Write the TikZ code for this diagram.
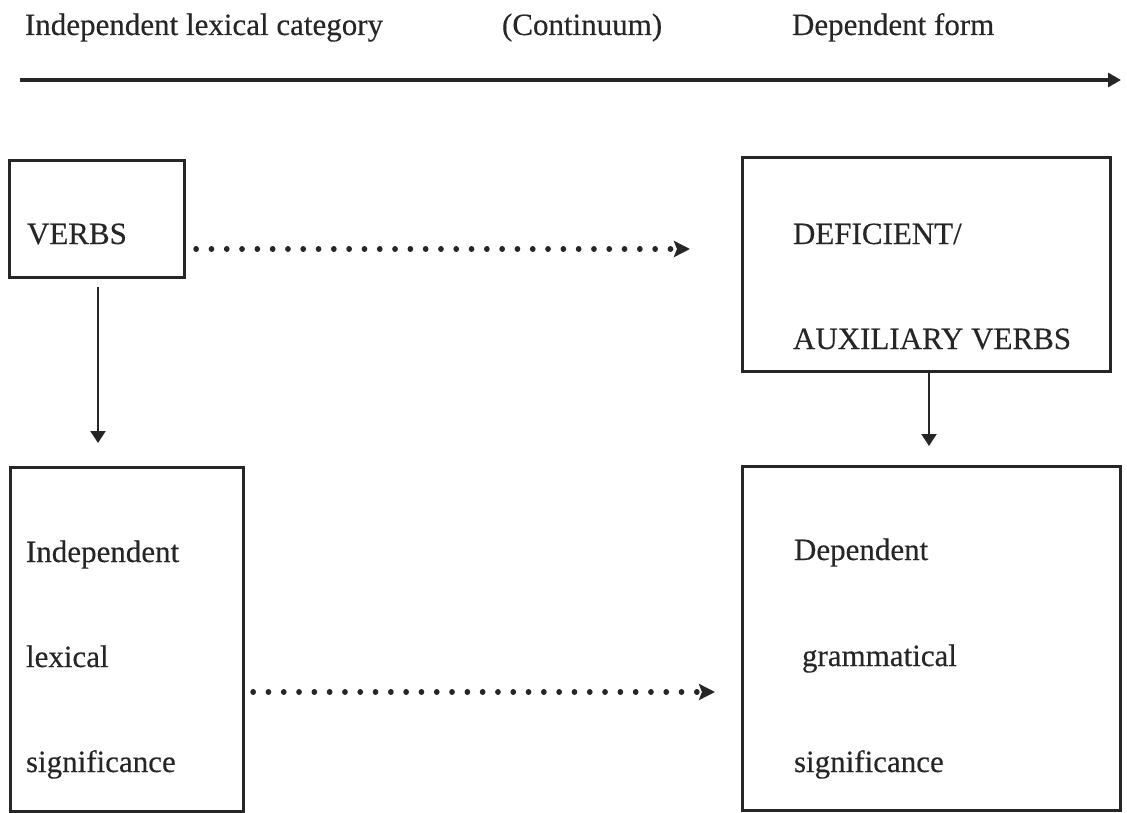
\documentclass[tikz,border=0pt]{standalone}
\usepackage{fontspec}
\setmainfont[FakeBold=0.3]{Liberation Serif}
\usetikzlibrary{arrows.meta}
\definecolor{ink}{RGB}{38,38,38}
\begin{document}
\begin{tikzpicture}[x=1pt,y=-1pt,
  every node/.style={inner sep=0pt,outer sep=0pt,text=ink,font=\fontsize{31}{37}\selectfont},
  box/.style={draw=ink,line width=3pt,rectangle,anchor=north west},
  lbl/.style={anchor=base west},
  solidarrow/.style={draw=ink,line width=2.2pt,-{Triangle[length=12pt,width=15pt]}},
  axisarrow/.style={draw=ink,line width=3.2pt,-{Triangle[length=13pt,width=14pt]}},
  dotarrow/.style={draw=ink,line width=5.4pt,line cap=round,dash pattern=on 0.3pt off 15pt,
    -{Stealth[length=16pt,width=16pt,inset=3pt,line cap=butt]}}]
\useasboundingbox (0,0) rectangle (1127,813);

% heading above the continuum axis
\node[lbl] (h1) at (25,35) {Independent lexical category};
\node[lbl] (h2) at (502,35) {(Continuum)};
\node[lbl] (h3) at (792,35) {Dependent form};
\coordinate (ax0) at (20,80);
\coordinate (ax1) at (1121,80);
\draw[axisarrow] (ax0) -- (ax1);

% boxes
\node[box,minimum width=175pt,minimum height=116pt] (verbs) at (9,161) {};
\node[box,minimum width=368pt,minimum height=213pt] (aux) at (742,158) {};
\node[box,minimum width=233pt,minimum height=344pt] (indep) at (10,467) {};
\node[box,minimum width=378pt,minimum height=344pt] (dep) at (742,466) {};

% box texts
\node[lbl] (t1) at (27,244) {VERBS};
\node[lbl] (t2) at (793,244) {DEFICIENT/};
\node[lbl] (t3) at (793,349) {AUXILIARY VERBS};
\node[lbl] (t4) at (26,562) {Independent};
\node[lbl] (t5) at (26,667) {lexical};
\node[lbl] (t6) at (26,772) {significance};
\node[lbl] (t7) at (794,560) {Dependent};
\node[lbl] (t8) at (802,666) {grammatical};
\node[lbl] (t9) at (794,772) {significance};

% connectors
\coordinate (d1s) at (196,249);
\coordinate (d1e) at (690,249);
\draw[dotarrow] (d1s) -- (d1e);
\coordinate (d2s) at (253,692);
\coordinate (d2e) at (715,692);
\draw[dotarrow] (d2s) -- (d2e);
\coordinate (v1e) at (98,443);
\draw[solidarrow] ([yshift=-10pt]verbs.south -| v1e) -- (v1e);
\coordinate (v2e) at (929,446);
\draw[solidarrow] (aux.south -| v2e) -- (v2e);
\end{tikzpicture}
\end{document}
